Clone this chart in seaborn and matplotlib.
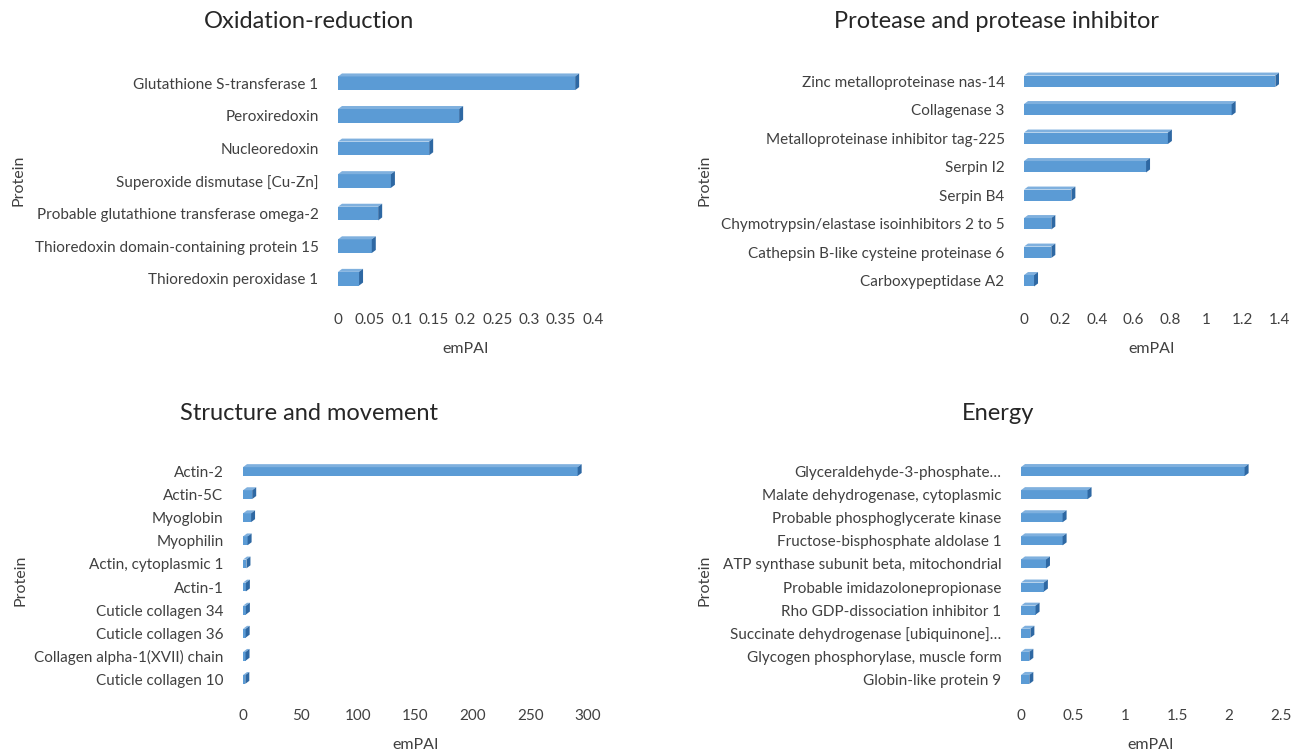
import numpy as np
import pandas as pd
import matplotlib
matplotlib.use("Agg")
import matplotlib.pyplot as plt
from matplotlib.patches import Polygon
from matplotlib.ticker import FuncFormatter, MultipleLocator
import seaborn as sns

# ---- data -------------------------------------------------------------
redox_labels = [
    "Glutathione S-transferase 1",
    "Peroxiredoxin",
    "Nucleoredoxin",
    "Superoxide dismutase [Cu-Zn]",
    "Probable glutathione transferase omega-2",
    "Thioredoxin domain-containing protein 15",
    "Thioredoxin peroxidase 1",
]
redox_values = [0.372, 0.19, 0.143, 0.083, 0.063, 0.053, 0.033]

protease_labels = [
    "Zinc metalloproteinase nas-14",
    "Collagenase 3",
    "Metalloproteinase inhibitor tag-225",
    "Serpin I2",
    "Serpin B4",
    "Chymotrypsin/elastase isoinhibitors 2 to 5",
    "Cathepsin B-like cysteine proteinase 6",
    "Carboxypeptidase A2",
]
protease_values = [1.38, 1.14, 0.79, 0.67, 0.26, 0.15, 0.15, 0.055]

structure_labels = [
    "Actin-2",
    "Actin-5C",
    "Myoglobin",
    "Myophilin",
    "Actin, cytoplasmic 1",
    "Actin-1",
    "Cuticle collagen 34",
    "Cuticle collagen 36",
    "Collagen alpha-1(XVII) chain",
    "Cuticle collagen 10",
]
structure_values = [291, 8, 7, 4, 3, 2.5, 2.5, 2.3, 2.2, 2]

energy_labels = [
    "Glyceraldehyde-3-phosphate\u2026",
    "Malate dehydrogenase, cytoplasmic",
    "Probable phosphoglycerate kinase",
    "Fructose-bisphosphate aldolase 1",
    "ATP synthase subunit beta, mitochondrial",
    "Probable imidazolonepropionase",
    "Rho GDP-dissociation inhibitor 1",
    "Succinate dehydrogenase [ubiquinone]\u2026",
    "Glycogen phosphorylase, muscle form",
    "Globin-like protein 9",
]
energy_values = [2.15, 0.64, 0.40, 0.40, 0.24, 0.22, 0.14, 0.09, 0.08, 0.08]

# ---- style ------------------------------------------------------------
sns.set_theme(style="white")
plt.rcParams["font.family"] = ["Lato", "DejaVu Sans"]

W, H = 1306, 752
DPI = 100
fig = plt.figure(figsize=(W / DPI, H / DPI), dpi=DPI)
fig.patch.set_facecolor("white")

FRONT = "#5B9BD5"
SIDE = "#2E68A3"
TOP = "#7FB0DE"
TEXT = "#404040"
DEPTH_X, DEPTH_Y = 4.0, 3.0  # pixel depth of the bar bevel


def add_panel(rect_px, title, title_xy, ylabel_xy, labels, values,
              xmax, step, bar_width):
    left, top, right, bottom = rect_px
    ax = fig.add_axes([left / W, 1 - bottom / H,
                       (right - left) / W, (bottom - top) / H])
    df = pd.DataFrame({"Protein": labels, "emPAI": values})
    sns.barplot(data=df, x="emPAI", y="Protein", orient="h", ax=ax,
                color=FRONT, saturation=1, width=bar_width,
                edgecolor="none", linewidth=0)
    n = len(labels)
    ax.set_xlim(0, xmax)
    ax.set_ylim(n - 0.5, -0.5)

    # bevel faces (top and right side) to give the bars depth
    ppx = (right - left) / xmax
    ppy = (bottom - top) / n
    dx = DEPTH_X / ppx
    dy = DEPTH_Y / ppy
    for p in list(ax.patches):
        x0, y0 = p.get_x(), p.get_y()
        w, h = p.get_width(), p.get_height()
        x1 = x0 + w
        ytop = min(y0, y0 + h)
        ybot = max(y0, y0 + h)
        top_face = Polygon([(x0, ytop), (x1, ytop), (x1 + dx, ytop - dy),
                            (x0 + dx, ytop - dy)], closed=True,
                           facecolor=TOP, edgecolor="none", zorder=1.9)
        side_face = Polygon([(x1, ytop), (x1 + dx, ytop - dy),
                             (x1 + dx, ybot - dy), (x1, ybot)], closed=True,
                            facecolor=SIDE, edgecolor="none", zorder=1.9)
        ax.add_patch(top_face)
        ax.add_patch(side_face)

    for s in ax.spines.values():
        s.set_visible(False)
    ax.tick_params(axis="both", length=0, colors=TEXT, labelsize=11)
    ax.tick_params(axis="y", pad=14)
    ax.tick_params(axis="x", pad=13)
    ax.xaxis.set_major_locator(MultipleLocator(step))
    ax.xaxis.set_major_formatter(FuncFormatter(lambda v, _: f"{v:g}"))
    ax.set_ylabel("")
    ax.set_xlabel("emPAI", fontsize=11.5, color=TEXT, labelpad=11)
    ax.set_facecolor("none")
    ax.grid(False)

    fig.text(title_xy[0] / W, 1 - title_xy[1] / H, title, ha="center",
             va="center", fontsize=17, color="#262626")
    fig.text(ylabel_xy[0] / W, 1 - ylabel_xy[1] / H, "Protein", ha="center",
             va="center", rotation=90, fontsize=11.5, color=TEXT)
    return ax


add_panel((338, 67, 593, 295), "Oxidation-reduction", (309, 21), (18, 180),
          redox_labels, redox_values, 0.4, 0.05, 0.42)
add_panel((1024, 67, 1279, 295), "Protease and protease inhibitor",
          (997, 21), (705, 180),
          protease_labels, protease_values, 1.4, 0.2, 0.4)
add_panel((243, 460, 588, 691), "Structure and movement", (309, 414),
          (20, 580), structure_labels, structure_values, 300, 50, 0.38)
add_panel((1021, 460, 1281, 691), "Energy", (998, 414), (705, 580),
          energy_labels, energy_values, 2.5, 0.5, 0.39)

fig.savefig("out.png", dpi=DPI, facecolor="white")
